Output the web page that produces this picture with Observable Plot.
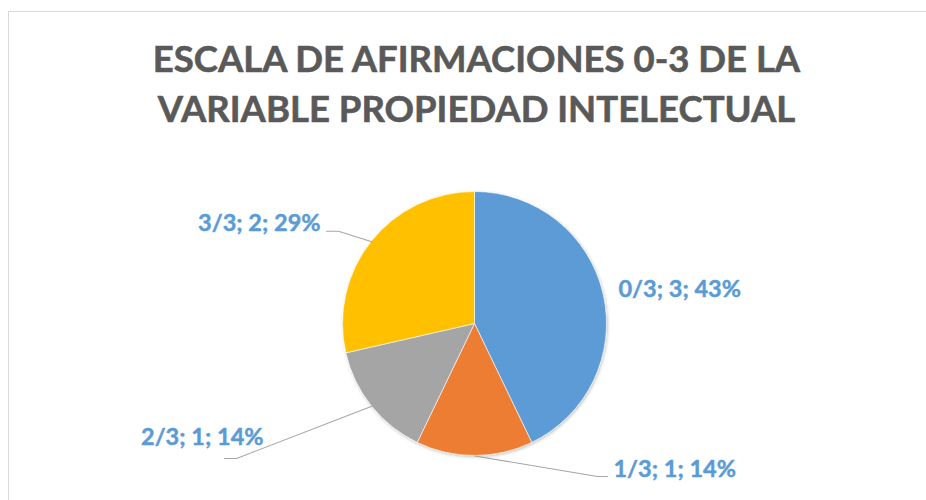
<!DOCTYPE html>
<html><head><meta charset="utf-8">
<script src="https://cdn.jsdelivr.net/npm/d3@7"></script>
<script src="https://cdn.jsdelivr.net/npm/@observablehq/plot@0.6"></script>
<style>
body{margin:0;background:#fff;overflow:hidden}
#chart{position:absolute;left:0;top:0}
#frame{position:absolute;left:8px;top:11px;width:2000px;height:2000px;border:1px solid #d9d9d9;pointer-events:none}
</style>
</head><body><div id="chart"></div><div id="frame"></div>
<script>
const titleLines = ["ESCALA DE AFIRMACIONES 0-3 DE LA", "VARIABLE PROPIEDAD INTELECTUAL"];
const categories = ["0/3", "1/3", "2/3", "3/3"];
const counts = [3, 1, 1, 2];
const colors = ["#5B9BD5", "#ED7D31", "#A5A5A5", "#FFC000"];

// label layout, in pie-radius units (x right, y up)
const labelX = [1.087, 1.049, -1.602, -1.170];
const labelY = [0.261, -1.102, -0.860, 0.765];
const labelAnchor = ["start", "start", "end", "end"];
// leader lines: elbow and end points (null = no leader)
const leaderElbow = [null, [0.928, -1.155], [-1.807, -1.019], [-1.034, 0.703]];
const leaderEnd = [null, [1.004, -1.155], [-1.898, -1.019], [-1.125, 0.703]];

const total = d3.sum(counts);
const arcs = d3.pie().sort(null).value(d => d)(counts);
const rows = categories.map((c, i) => ({
  category: c,
  count: counts[i],
  pct: Math.round(counts[i] / total * 100),
  color: colors[i],
  mid: (arcs[i].startAngle + arcs[i].endAngle) / 2,
  arc: arcs[i]
}));
const labels = rows.map((r, i) => ({
  text: `${r.category}; ${r.count}; ${r.pct}%`,
  x: labelX[i], y: labelY[i], anchor: labelAnchor[i]
}));
const leaders = [];
rows.forEach((r, i) => {
  if (!leaderElbow[i]) return;
  leaders.push({id: i, x: Math.sin(r.mid), y: Math.cos(r.mid)});
  leaders.push({id: i, x: leaderElbow[i][0], y: leaderElbow[i][1]});
  leaders.push({id: i, x: leaderEnd[i][0], y: leaderEnd[i][1]});
});

const pieMark = (index, scales, values, dimensions) => {
  const cx = scales.x(0), cy = scales.y(0);
  const R = scales.x(1) - scales.x(0);
  const arcGen = d3.arc().innerRadius(0).outerRadius(R);
  const g = d3.create("svg:g").attr("transform", `translate(${cx},${cy})`);
  const defs = g.append("defs");
  defs.append("filter").attr("id", "pieShadow").attr("x", "-20%").attr("y", "-20%").attr("width", "140%").attr("height", "140%")
    .append("feDropShadow").attr("dx", 0.8).attr("dy", 1.2).attr("stdDeviation", 1.5).attr("flood-color", "#000").attr("flood-opacity", 0.25);
  const pg = g.append("g").attr("filter", "url(#pieShadow)");
  pg.selectAll("path").data(rows).join("path")
    .attr("d", d => arcGen(d.arc))
    .attr("fill", d => d.color)
    .attr("stroke", "#fff").attr("stroke-width", 0.6);
  return g.node();
};

const labelStyle = {x: "x", y: "y", text: "text", fontFamily: "Lato", fontWeight: "bold", fontSize: 23.5,
  fill: "#5B9BD5", stroke: "#5B9BD5", strokeWidth: 0.45, lineAnchor: "middle"};

const chart = Plot.plot({
  width: 926,
  height: 500,
  margin: 0,
  style: {background: "transparent", overflow: "visible"},
  x: {domain: [-1, 1], range: [342.5, 606.5], axis: null},
  y: {domain: [-1, 1], range: [455.5, 191.5], axis: null},
  marks: [
    Plot.text([titleLines.join("\n")], {
      frameAnchor: "top", dx: 13, dy: 35.5, lineAnchor: "top", lineHeight: 1.38,
      text: d => d, fontFamily: "Lato", fontWeight: "bold", fontSize: 36.5,
      fill: "#595959", stroke: "#595959", strokeWidth: 0.6
    }),
    pieMark,
    Plot.line(leaders, {x: "x", y: "y", z: "id", stroke: "#A6A6A6", strokeWidth: 1.1}),
    Plot.text(labels.filter(d => d.anchor === "start"), {...labelStyle, textAnchor: "start"}),
    Plot.text(labels.filter(d => d.anchor === "end"), {...labelStyle, textAnchor: "end"})
  ]
});
document.getElementById("chart").appendChild(chart);
</script>
</body></html>
